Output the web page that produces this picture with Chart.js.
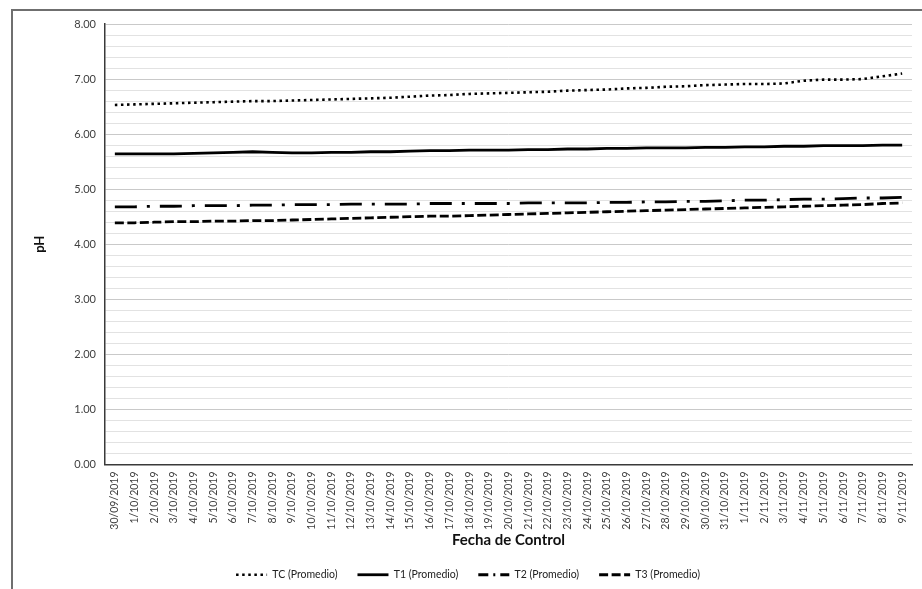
<!DOCTYPE html>
<html>
<head>
<meta charset="utf-8">
<script src="https://cdn.jsdelivr.net/npm/chart.js@4/dist/chart.umd.min.js"></script>
<style>
  html, body { margin: 0; padding: 0; background: #fff; overflow: hidden; }
  #wrap { position: relative; width: 922px; height: 600px; }
</style>
</head>
<body>
<div id="wrap"><canvas id="phChart" width="922" height="600"></canvas></div>
<script>
// fechas de control
const fechas = [
  '30/09/2019', '1/10/2019', '2/10/2019', '3/10/2019', '4/10/2019', '5/10/2019',
  '6/10/2019', '7/10/2019', '8/10/2019', '9/10/2019', '10/10/2019', '11/10/2019',
  '12/10/2019', '13/10/2019', '14/10/2019', '15/10/2019', '16/10/2019', '17/10/2019',
  '18/10/2019', '19/10/2019', '20/10/2019', '21/10/2019', '22/10/2019', '23/10/2019',
  '24/10/2019', '25/10/2019', '26/10/2019', '27/10/2019', '28/10/2019', '29/10/2019',
  '30/10/2019', '31/10/2019', '1/11/2019', '2/11/2019', '3/11/2019', '4/11/2019',
  '5/11/2019', '6/11/2019', '7/11/2019', '8/11/2019', '9/11/2019'
];

const tcProm = [
  6.53, 6.54, 6.55, 6.56, 6.57, 6.58, 6.59, 6.60, 6.60, 6.61, 6.62, 6.63, 6.64, 6.65,
  6.66, 6.68, 6.70, 6.71, 6.73, 6.74, 6.75, 6.76, 6.77, 6.79, 6.80, 6.81, 6.83, 6.84,
  6.86, 6.87, 6.89, 6.90, 6.91, 6.91, 6.92, 6.97, 6.99, 6.99, 7.00, 7.05, 7.10
];
const t1Prom = [
  5.64, 5.64, 5.64, 5.64, 5.65, 5.66, 5.67, 5.68, 5.67, 5.66, 5.66, 5.67, 5.67, 5.68,
  5.68, 5.69, 5.70, 5.70, 5.71, 5.71, 5.71, 5.72, 5.72, 5.73, 5.73, 5.74, 5.74, 5.75,
  5.75, 5.75, 5.76, 5.76, 5.77, 5.77, 5.78, 5.78, 5.79, 5.79, 5.79, 5.80, 5.80
];
const t2Prom = [
  4.68, 4.68, 4.69, 4.69, 4.70, 4.70, 4.70, 4.71, 4.71, 4.72, 4.72, 4.72, 4.73, 4.73,
  4.73, 4.73, 4.74, 4.74, 4.74, 4.74, 4.74, 4.75, 4.75, 4.75, 4.75, 4.76, 4.76, 4.77,
  4.77, 4.78, 4.78, 4.79, 4.80, 4.80, 4.81, 4.82, 4.82, 4.83, 4.84, 4.84, 4.85
];
const t3Prom = [
  4.39, 4.39, 4.40, 4.41, 4.41, 4.42, 4.42, 4.43, 4.43, 4.44, 4.45, 4.46, 4.47, 4.48,
  4.49, 4.50, 4.51, 4.51, 4.52, 4.53, 4.54, 4.55, 4.56, 4.57, 4.58, 4.59, 4.60, 4.61,
  4.62, 4.63, 4.64, 4.65, 4.66, 4.67, 4.68, 4.69, 4.70, 4.71, 4.72, 4.74, 4.75
];

const fuente = 'Lato';
const anchoMuestra = 31;

// marco gris alrededor del grafico, leyenda corrida un poco a la derecha
// y muestras de linea de la leyenda dibujadas a mano (el rect de alto 0 mezcla los guiones)
const marcoPlugin = {
  id: 'marco',
  afterLayout(chart) {
    const lg = chart.legend;
    if (lg) {
      lg.left += 12;
      lg.right += 12;
    }
  },
  beforeDraw(chart) {
    const c = chart.ctx;
    c.save();
    c.fillStyle = '#fff';
    c.fillRect(0, 0, chart.width, chart.height);
    c.strokeStyle = '#6f6f6f';
    c.lineWidth = 2;
    c.strokeRect(12, 10, 1000, 1000);
    c.restore();
  },
  afterDraw(chart) {
    const lg = chart.legend;
    if (!lg || !lg.legendHitBoxes) return;
    const c = chart.ctx;
    lg.legendHitBoxes.forEach((hb, i) => {
      const ds = chart.data.datasets[i];
      const y = hb.top + hb.height / 2;
      c.save();
      c.strokeStyle = ds.borderColor;
      c.lineWidth = ds.borderWidth;
      c.setLineDash(ds.legendDash || ds.borderDash || []);
      c.beginPath();
      c.moveTo(hb.left, y);
      c.lineTo(hb.left + anchoMuestra, y);
      c.stroke();
      c.restore();
    });
  }
};

const ctx = document.getElementById('phChart').getContext('2d');
const phChart = new Chart(ctx, {
  type: 'line',
  data: {
    labels: fechas,
    datasets: [
      {
        label: 'TC (Promedio)',
        data: tcProm,
        borderColor: '#000',
        backgroundColor: '#000',
        borderWidth: 2.6,
        borderDash: [2.5, 3.6],
        pointRadius: 0,
        fill: false,
        tension: 0
      },
      {
        label: 'T1 (Promedio)',
        data: t1Prom,
        borderColor: '#000',
        backgroundColor: '#000',
        borderWidth: 2.8,
        pointRadius: 0,
        fill: false,
        tension: 0
      },
      {
        label: 'T2 (Promedio)',
        data: t2Prom,
        borderColor: '#000',
        backgroundColor: '#000',
        borderWidth: 2.8,
        borderDash: [22, 10, 3, 10],
        legendDash: [10, 5, 2, 5],
        pointRadius: 0,
        fill: false,
        tension: 0
      },
      {
        label: 'T3 (Promedio)',
        data: t3Prom,
        borderColor: '#000',
        backgroundColor: '#000',
        borderWidth: 2.8,
        borderDash: [9, 3.5],
        pointRadius: 0,
        fill: false,
        tension: 0
      }
    ]
  },
  options: {
    responsive: false,
    animation: false,
    layout: {
      padding: { left: 0, right: 10, top: 24, bottom: 10 }
    },
    plugins: {
      tooltip: { enabled: false },
      legend: {
        position: 'bottom',
        labels: {
          boxWidth: anchoMuestra,
          boxHeight: 0,
          padding: 20,
          color: '#222',
          font: { family: fuente, size: 10.5 },
          generateLabels(chart) {
            const items = Chart.defaults.plugins.legend.labels.generateLabels(chart);
            items.forEach(it => {
              it.lineWidth = 0;
              it.fillStyle = 'rgba(0,0,0,0)';
              it.strokeStyle = 'rgba(0,0,0,0)';
            });
            return items;
          }
        }
      }
    },
    scales: {
      x: {
        offset: true,
        grid: { display: false, drawTicks: false },
        border: { display: true, color: '#3a3a3a', width: 1.5 },
        ticks: {
          autoSkip: false,
          minRotation: 90,
          maxRotation: 90,
          padding: 7,
          color: '#404040',
          font: { family: fuente, size: 10.5 }
        },
        title: {
          display: true,
          text: 'Fecha de Control',
          color: '#111',
          font: { family: fuente, size: 15, weight: 'bold' },
          padding: { top: 0, bottom: 0 }
        },
        afterFit(scale) {
          scale.height = 85;
        }
      },
      y: {
        min: 0,
        max: 8,
        grid: {
          drawTicks: false,
          color: (c) => {
            const v = c.tick ? c.tick.value : 0;
            return Math.abs(v - Math.round(v)) < 1e-6 ? '#c9c9c9' : '#e2e2e2';
          },
          lineWidth: 1
        },
        border: { display: true, color: '#3a3a3a', width: 1.5 },
        ticks: {
          stepSize: 0.2,
          autoSkip: false,
          padding: 9,
          color: '#404040',
          font: { family: fuente, size: 11 },
          callback: (v) => Math.abs(v - Math.round(v)) < 1e-6 ? Number(v).toFixed(2) : ''
        },
        title: {
          display: true,
          text: 'pH',
          color: '#111',
          font: { family: fuente, size: 13, weight: 'bold' },
          padding: { top: 32, bottom: 0 }
        },
        afterFit(scale) {
          scale.width = 105;
        }
      }
    }
  },
  plugins: [marcoPlugin]
});
</script>
</body>
</html>
